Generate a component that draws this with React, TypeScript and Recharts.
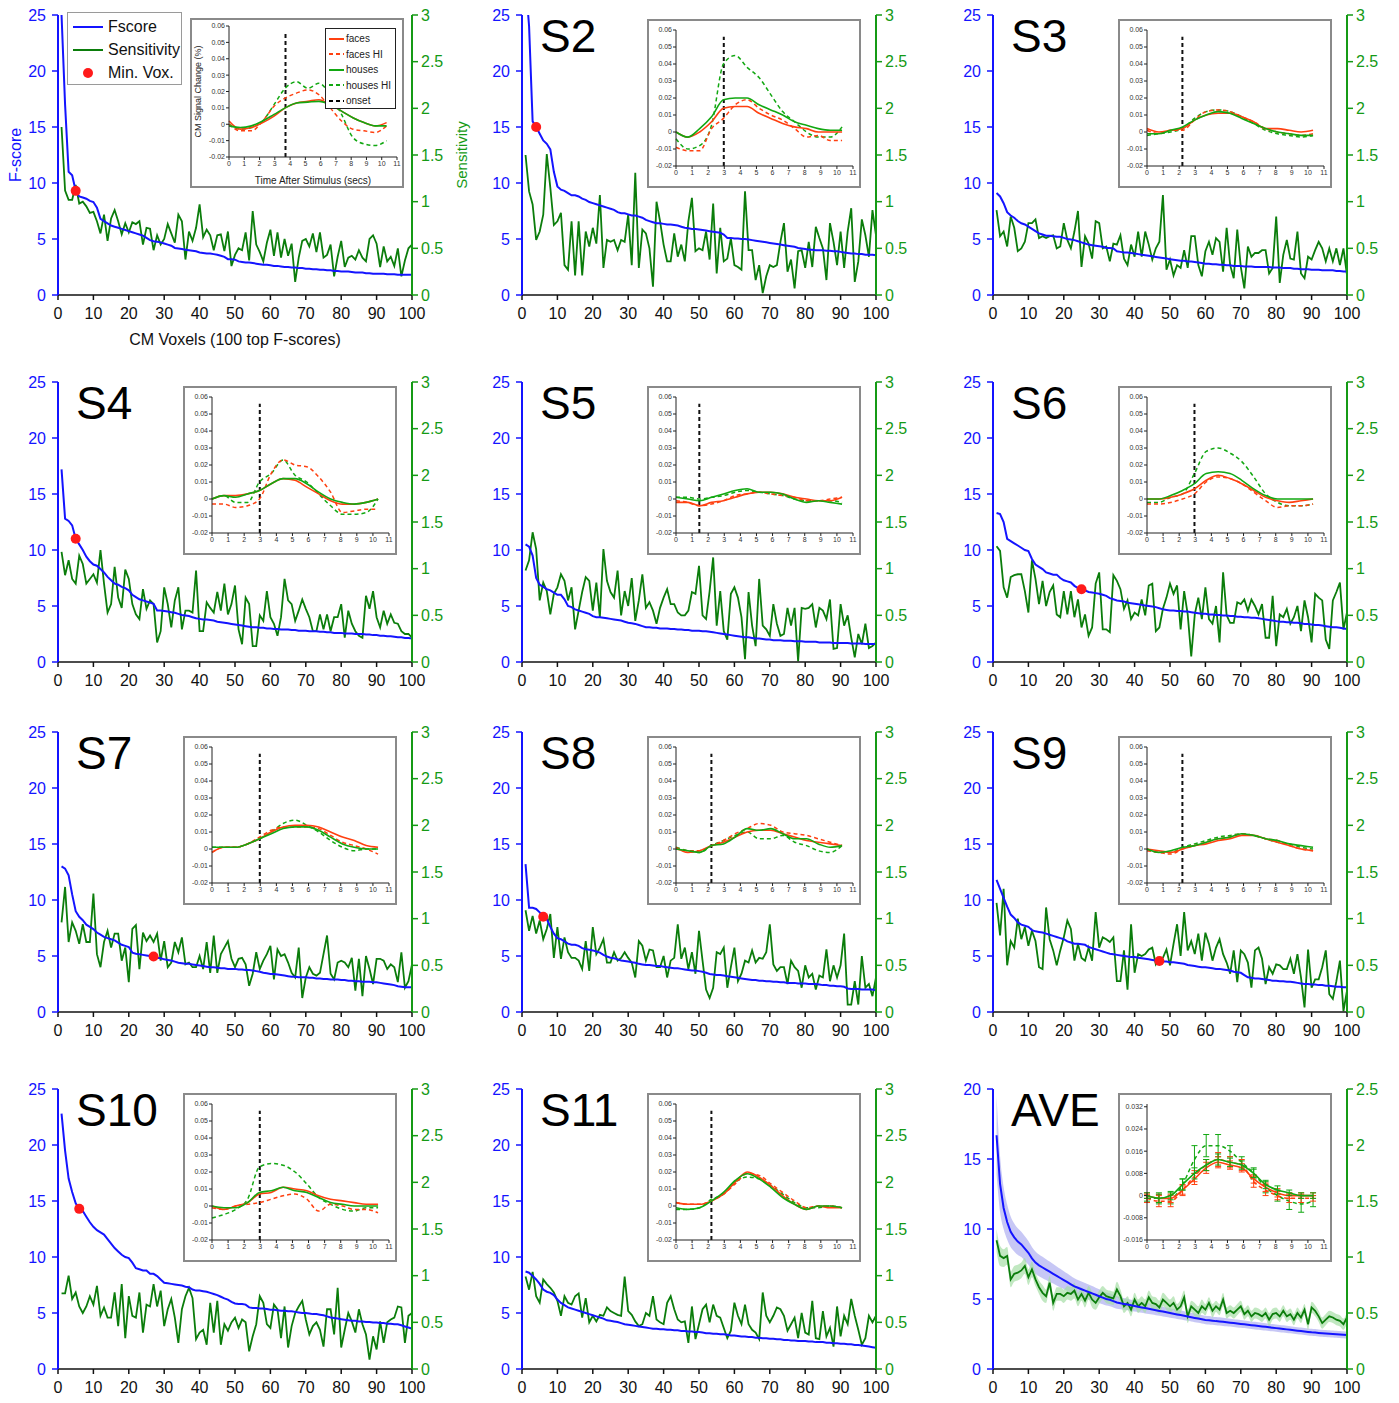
import React from "react";
import {
  ComposedChart,
  LineChart,
  Line,
  Area,
  XAxis,
  YAxis,
  ReferenceDot,
  ReferenceLine,
  ErrorBar,
} from "recharts";

const FONT = '"Liberation Sans", Arial, Helvetica, sans-serif';
const BLUE = "#1414ff";
const GREEN = "#0b7d0b";
const AXIS_GREEN = "#159a15";
const RED = "#ff1a1a";
const INSET_RED = "#ff4010";
const INSET_GREEN = "#12a812";

// axis ticks
const VOXEL_TICKS = [0, 10, 20, 30, 40, 50, 60, 70, 80, 90, 100];
const FSCORE_TICKS = [0, 5, 10, 15, 20, 25];
const AVE_FSCORE_TICKS = [0, 5, 10, 15, 20];
const SENS_TICKS = [0, 0.5, 1, 1.5, 2, 2.5, 3];
const AVE_SENS_TICKS = [0, 0.5, 1, 1.5, 2, 2.5];
const TIME_TICKS = [0, 1, 2, 3, 4, 5, 6, 7, 8, 9, 10, 11];
const BOLD_TICKS = [-0.02, -0.01, 0, 0.01, 0.02, 0.03, 0.04, 0.05, 0.06];
const AVE_BOLD_TICKS = [-0.016, -0.008, 0, 0.008, 0.016, 0.024, 0.032];

// time after stimulus (secs) of the inset samples
const TIME = [0, 0.74, 1.47, 2.21, 2.95, 3.68, 4.42, 5.16, 5.89, 6.63, 7.37, 8.11, 8.84, 9.58, 10.32];

// ---- F-scores and sensitivity, voxels ranked 1..100 ----
const S1_FSCORE = [25,17,11,10.7,9.3,8.8,8.7,8.6,8.4,8.3, 7.8,6.8,6.6,6.4,6.2,6.1,6.0,5.9,5.8,5.7, 5.6,5.5,5.4,5.3,5.1,4.9,4.8,4.75,4.7,4.6, 4.5,4.4,4.2,4.15,4.1,4.05,4.0,3.95,3.9,3.8, 3.75,3.7,3.7,3.65,3.6,3.5,3.4,3.2,3.2,3.15, 3.0,2.95,2.9,2.9,2.85,2.8,2.75,2.7,2.7,2.65, 2.6,2.6,2.55,2.5,2.5,2.45,2.45,2.4,2.4,2.35, 2.35,2.3,2.3,2.25,2.25,2.2,2.2,2.15,2.15,2.1, 2.1,2.1,2.05,2.0,2.0,2.0,1.95,1.95,1.9,1.9, 1.9,1.9,1.85,1.85,1.85,1.8,1.8,1.8,1.8,1.8];
const S1_SENS = [1.80,1.12,1.02,1.02,1.18,0.98,1.00,0.95,0.88,0.89, 0.79,0.66,0.86,0.58,0.82,0.91,0.79,0.65,0.77,0.67, 0.78,0.76,0.79,0.54,0.72,0.71,0.48,0.64,0.54,0.60, 0.76,0.66,0.56,0.86,0.79,0.38,0.68,0.58,0.72,0.97, 0.62,0.70,0.64,0.48,0.64,0.65,0.47,0.68,0.31,0.43, 0.50,0.48,0.67,0.37,0.90,0.54,0.46,0.36,0.56,0.70, 0.42,0.67,0.40,0.60,0.42,0.55,0.14,0.40,0.58,0.60, 0.52,0.66,0.46,0.67,0.40,0.43,0.54,0.20,0.41,0.58, 0.30,0.40,0.42,0.38,0.48,0.40,0.36,0.60,0.64,0.55, 0.30,0.52,0.36,0.41,0.31,0.50,0.20,0.37,0.50,0.54];

const S2_FSCORE = [28,24,15.5,15.0,14.4,13.8,13.5,13.0,11.0,9.7, 9.4,9.3,9.1,8.9,8.9,8.8,8.6,8.5,8.3,8.2, 8.1,8.0,7.9,7.8,7.7,7.6,7.4,7.3,7.3,7.2, 7.1,7.1,7.0,6.9,6.7,6.6,6.5,6.4,6.4,6.35, 6.3,6.3,6.25,6.2,6.1,6.0,5.95,5.9,5.9,5.85, 5.8,5.75,5.7,5.65,5.6,5.55,5.4,5.1,5.1,5.05, 5.05,5.0,5.0,4.95,4.9,4.85,4.8,4.75,4.7,4.65, 4.6,4.55,4.5,4.45,4.4,4.35,4.3,4.2,4.15,4.1, 4.05,4.05,4.0,4.0,4.0,3.95,3.95,3.9,3.9,3.85, 3.8,3.75,3.7,3.7,3.65,3.65,3.6,3.6,3.6,3.55];
const S2_SENS = [1.50,1.11,0.97,0.59,0.68,0.86,1.51,1.15,0.75,0.79, 0.88,0.32,0.27,0.79,0.21,0.79,0.21,0.68,0.52,0.72, 0.55,1.07,0.29,0.59,0.57,0.59,0.48,0.59,0.57,0.86, 0.32,1.31,0.29,0.70,0.66,0.50,0.09,1.00,0.79,0.54, 0.36,0.36,0.66,0.41,0.54,0.36,0.79,1.04,0.47,0.50, 0.48,0.68,0.38,0.98,0.23,0.72,0.36,0.39,0.61,0.32, 0.30,0.27,1.11,0.48,0.48,0.16,0.32,0.02,0.20,0.32, 0.30,0.32,0.57,0.77,0.25,0.38,0.07,0.47,0.48,0.29, 0.57,0.30,0.73,0.61,0.50,0.16,0.77,0.57,0.32,0.68, 0.29,0.68,0.93,0.14,0.36,0.81,0.64,0.41,0.91,0.64];

const S3_FSCORE = [9.1,8.8,8.2,7.4,7.1,6.9,6.6,6.4,6.3,6.1, 5.9,5.7,5.5,5.4,5.3,5.3,5.25,5.2,5.2,5.1, 5.0,4.95,4.9,4.8,4.7,4.6,4.5,4.45,4.4,4.35, 4.3,4.2,4.2,4.15,3.9,3.85,3.8,3.8,3.75,3.7, 3.65,3.6,3.55,3.5,3.45,3.4,3.35,3.3,3.25,3.2, 3.15,3.1,3.05,3.05,3.0,3.0,2.95,2.9,2.85,2.8, 2.8,2.75,2.75,2.7,2.7,2.65,2.65,2.6,2.6,2.6, 2.55,2.55,2.55,2.5,2.5,2.5,2.5,2.5,2.45,2.45, 2.45,2.4,2.4,2.4,2.35,2.35,2.3,2.3,2.3,2.25, 2.25,2.25,2.2,2.2,2.2,2.2,2.15,2.15,2.1,2.1];
const S3_SENS = [0.91,0.63,0.68,0.52,0.84,0.72,0.47,0.50,0.57,0.77, 0.77,0.81,0.61,0.63,0.61,0.63,0.64,0.50,0.52,0.77, 0.59,0.50,0.68,0.90,0.30,0.63,0.55,0.39,0.79,0.77, 0.50,0.52,0.36,0.55,0.54,0.64,0.39,0.32,0.54,0.41, 0.68,0.41,0.68,0.54,0.38,0.50,0.57,1.07,0.27,0.38, 0.21,0.32,0.29,0.48,0.29,0.63,0.63,0.32,0.20,0.47, 0.57,0.43,0.61,0.57,0.25,0.72,0.32,0.18,0.70,0.30, 0.07,0.52,0.41,0.45,0.45,0.48,0.48,0.23,0.29,0.84, 0.13,0.43,0.59,0.39,0.38,0.68,0.23,0.18,0.41,0.38, 0.48,0.57,0.50,0.36,0.50,0.36,0.50,0.32,0.50,0.21];

const S4_FSCORE = [17.2,12.8,12.6,12.2,11.0,10.5,10.0,9.4,9.0,8.7, 8.6,8.3,8.0,7.6,7.3,7.0,6.9,6.7,6.6,6.4, 6.0,5.8,5.6,5.5,5.4,5.3,5.2,4.6,4.6,4.55, 4.5,4.45,4.4,4.3,4.2,4.15,4.1,4.0,3.9,3.85, 3.8,3.8,3.75,3.7,3.6,3.55,3.5,3.45,3.4,3.35, 3.3,3.25,3.2,3.15,3.1,3.1,3.05,3.05,3.0,3.0, 2.95,2.95,2.9,2.9,2.9,2.85,2.85,2.8,2.8,2.8, 2.75,2.75,2.75,2.7,2.7,2.65,2.65,2.6,2.6,2.6, 2.55,2.55,2.55,2.5,2.5,2.5,2.45,2.45,2.4,2.4, 2.35,2.35,2.3,2.3,2.25,2.2,2.2,2.15,2.15,2.1];
const S4_SENS = [1.18,0.93,1.09,0.89,0.84,1.14,1.05,0.84,0.89,0.94, 0.85,1.20,0.84,0.53,0.62,1.02,0.69,0.58,0.99,0.89, 0.62,0.51,0.46,0.78,0.57,0.66,0.62,0.21,0.33,0.80, 0.62,0.37,0.66,0.80,0.35,0.55,0.55,0.53,0.98,0.33, 0.33,0.64,0.58,0.53,0.75,0.55,0.84,0.51,0.62,0.82, 0.35,0.19,0.69,0.62,0.17,0.17,0.50,0.44,0.76,0.48, 0.41,0.28,0.48,0.89,0.66,0.62,0.44,0.55,0.67,0.57, 0.48,0.33,0.33,0.51,0.35,0.51,0.33,0.48,0.48,0.62, 0.26,0.55,0.41,0.33,0.28,0.26,0.71,0.57,0.76,0.48, 0.37,0.55,0.41,0.51,0.42,0.41,0.33,0.30,0.30,0.26];

const S5_FSCORE = [10.5,10.3,9.5,7.5,6.9,6.7,6.5,6.4,6.2,6.0, 6.0,5.6,5.0,4.9,4.7,4.6,4.5,4.4,4.3,4.1, 4.0,4.0,3.95,3.9,3.85,3.8,3.75,3.7,3.6,3.5, 3.45,3.4,3.3,3.2,3.1,3.1,3.05,3.05,3.0,3.0, 3.0,2.95,2.95,2.9,2.9,2.85,2.85,2.8,2.8,2.8, 2.75,2.75,2.7,2.65,2.6,2.55,2.5,2.45,2.4,2.35, 2.3,2.25,2.2,2.2,2.15,2.1,2.1,2.05,2.0,2.0, 1.95,1.95,1.95,1.9,1.9,1.9,1.85,1.85,1.85,1.8, 1.8,1.8,1.8,1.75,1.75,1.75,1.75,1.7,1.7,1.7, 1.7,1.7,1.65,1.65,1.65,1.65,1.6,1.6,1.6,1.6];
const S5_SENS = [0.98,1.09,1.39,1.21,0.66,0.85,0.76,0.51,0.73,0.80, 0.94,0.87,0.66,0.80,0.35,0.55,0.75,0.91,0.87,0.55, 0.85,0.48,1.21,0.87,0.75,0.69,0.98,0.50,0.76,0.60, 0.90,0.44,0.66,0.94,0.58,0.64,0.55,0.41,0.58,0.69, 0.78,0.62,0.62,0.53,0.50,0.50,0.55,0.75,0.73,1.03, 0.50,0.46,0.76,1.12,0.39,0.76,0.33,0.24,0.73,0.80, 0.69,0.48,0.03,0.75,0.39,0.17,0.89,0.39,0.35,0.28, 0.62,0.41,0.28,0.30,0.58,0.39,0.58,0.01,0.58,0.57, 0.58,0.62,0.37,0.58,0.55,0.46,0.67,0.14,0.15,0.62, 0.39,0.50,0.26,0.05,0.30,0.19,0.41,0.15,0.17,0.21];

const S6_FSCORE = [13.3,13.2,12.5,11.0,10.8,10.6,10.4,10.2,10.0,9.9, 9.2,8.7,8.5,8.3,8.0,7.9,7.8,7.8,7.5,7.3, 7.2,7.1,6.8,6.6,6.5,6.4,6.25,6.2,6.15,6.1, 6.0,5.9,5.7,5.6,5.5,5.45,5.4,5.3,5.25,5.2, 5.15,5.1,5.05,5.0,4.95,4.9,4.8,4.7,4.65,4.6, 4.6,4.55,4.55,4.5,4.5,4.45,4.4,4.35,4.3,4.3, 4.25,4.25,4.2,4.2,4.15,4.15,4.1,4.1,4.05,4.05, 4.0,4.0,3.95,3.95,3.9,3.85,3.8,3.75,3.7,3.65, 3.6,3.6,3.55,3.55,3.5,3.5,3.45,3.4,3.4,3.35, 3.3,3.3,3.25,3.2,3.15,3.1,3.1,3.05,3.0,2.95];
const S6_SENS = [1.24,1.19,0.80,0.69,0.91,0.93,0.94,0.94,0.76,0.53, 1.09,0.89,0.62,0.87,0.60,0.75,0.82,0.51,0.48,0.76, 0.51,0.76,0.48,0.67,0.37,0.51,0.28,0.37,0.84,0.96, 0.35,0.35,0.32,0.93,0.87,0.78,0.57,0.66,0.46,0.53, 0.50,0.67,0.50,0.82,0.84,0.33,0.37,0.57,0.69,0.84, 0.73,0.82,0.35,0.76,0.51,0.06,0.51,0.69,0.46,0.80, 0.46,0.41,0.60,0.21,0.96,0.50,0.42,0.42,0.64,0.62, 0.67,0.55,0.67,0.60,0.51,0.62,0.26,0.26,0.71,0.17, 0.51,0.48,0.57,0.41,0.48,0.60,0.33,0.66,0.48,0.21, 0.73,0.69,0.66,0.24,0.14,0.66,0.75,0.85,0.35,0.53];

const S7_FSCORE = [13.0,12.8,12.2,10.5,9.0,8.5,8.2,7.8,7.6,7.4, 7.1,6.9,6.7,6.6,6.5,6.4,6.2,6.0,5.9,5.8, 5.3,5.2,5.15,5.1,5.05,5.0,4.95,4.85,4.8,4.7, 4.65,4.6,4.5,4.4,4.35,4.3,4.3,4.25,4.2,4.15, 4.1,4.05,4.0,4.0,3.95,3.9,3.9,3.85,3.85,3.85, 3.8,3.8,3.75,3.75,3.7,3.65,3.6,3.5,3.45,3.4, 3.4,3.35,3.3,3.25,3.2,3.15,3.15,3.1,3.1,3.1, 3.05,3.05,3.0,3.0,2.95,2.95,2.9,2.9,2.9,2.85, 2.85,2.8,2.8,2.75,2.75,2.7,2.7,2.7,2.65,2.65, 2.6,2.55,2.5,2.45,2.4,2.3,2.25,2.2,2.2,2.2];
const S7_SENS = [0.96,1.34,0.75,0.96,0.87,0.73,0.94,0.75,0.75,1.27, 0.62,0.48,0.75,0.87,0.69,0.84,0.84,0.55,0.69,0.32, 0.89,0.93,0.46,0.85,0.76,0.82,0.75,0.84,0.55,0.76, 0.48,0.53,0.75,0.64,0.80,0.51,0.53,0.48,0.48,0.60, 0.46,0.75,0.42,0.82,0.42,0.62,0.69,0.76,0.57,0.48, 0.57,0.58,0.51,0.28,0.41,0.64,0.46,0.55,0.62,0.71, 0.35,0.67,0.60,0.62,0.53,0.42,0.37,0.69,0.15,0.37, 0.48,0.41,0.39,0.42,0.62,0.82,0.41,0.35,0.53,0.55, 0.53,0.48,0.58,0.23,0.57,0.17,0.60,0.46,0.30,0.57, 0.57,0.55,0.46,0.51,0.48,0.32,0.64,0.26,0.33,0.51];

const S8_FSCORE = [13.2,9.3,9.3,9.2,8.9,8.5,8.3,7.6,7.0,6.6, 6.5,6.3,6.1,6.0,6.0,5.9,5.7,5.6,5.55,5.5, 5.4,5.3,5.1,4.95,4.85,4.8,4.7,4.6,4.55,4.5, 4.45,4.4,4.3,4.25,4.2,4.2,4.15,4.1,4.1,4.05, 4.0,3.95,3.9,3.9,3.85,3.8,3.75,3.7,3.7,3.65, 3.6,3.5,3.4,3.35,3.3,3.3,3.25,3.2,3.15,3.1, 3.05,3.0,2.95,2.9,2.85,2.85,2.8,2.8,2.75,2.75, 2.7,2.7,2.65,2.65,2.6,2.6,2.6,2.55,2.55,2.55, 2.5,2.5,2.5,2.45,2.4,2.4,2.35,2.35,2.3,2.3, 2.25,2.1,2.05,2.05,2.05,2.0,2.0,2.0,2.0,1.95];
const S8_SENS = [1.09,0.87,1.03,0.84,0.98,0.78,0.89,1.05,0.58,0.91, 0.57,0.80,0.64,0.58,0.58,0.55,0.46,0.76,0.44,0.91, 0.62,0.69,0.78,0.53,0.53,0.64,0.55,0.58,0.64,0.58, 0.53,0.37,0.76,0.71,0.55,0.67,0.66,0.48,0.48,0.60, 0.37,0.55,0.58,0.94,0.57,0.69,0.46,0.64,0.41,0.87, 0.55,0.24,0.15,0.26,0.64,0.62,0.69,0.26,0.48,0.69, 0.33,0.41,0.55,0.53,0.66,0.53,0.58,0.57,0.64,0.94, 0.51,0.44,0.48,0.48,0.30,0.55,0.48,0.44,0.26,0.50, 0.37,0.41,0.24,0.39,0.37,0.67,0.33,0.50,0.37,0.50, 0.84,0.08,0.08,0.33,0.08,0.60,0.26,0.30,0.17,0.37];

const S9_FSCORE = [11.8,11.0,10.2,9.4,8.7,8.4,8.0,7.8,7.7,7.6, 7.3,7.2,7.15,7.1,7.0,6.9,6.8,6.7,6.6,6.5, 6.3,6.2,6.1,6.1,6.05,6.0,5.8,5.7,5.6,5.5, 5.4,5.3,5.2,5.15,5.1,5.05,5.0,4.95,4.9,4.9, 4.85,4.8,4.75,4.7,4.65,4.6,4.55,4.5,4.5,4.45, 4.45,4.4,4.35,4.3,4.2,4.15,4.1,4.05,4.0,4.0, 3.95,3.9,3.85,3.85,3.8,3.75,3.7,3.6,3.55,3.5, 3.3,3.1,3.05,3.0,3.0,2.95,2.9,2.85,2.8,2.8, 2.75,2.75,2.7,2.7,2.65,2.6,2.55,2.5,2.5,2.45, 2.45,2.4,2.4,2.35,2.35,2.3,2.25,2.25,2.2,2.2];
const S9_SENS = [1.17,0.82,1.32,0.50,0.76,0.69,1.00,0.78,0.91,0.71, 0.87,0.76,0.48,0.46,1.12,0.78,0.66,0.50,0.66,0.80, 0.98,0.89,0.55,0.73,0.58,0.55,0.69,0.55,1.07,0.69, 0.80,0.78,0.75,0.80,0.33,0.33,0.66,0.24,0.94,0.42, 0.62,0.60,0.62,0.67,0.69,0.51,0.57,0.58,0.67,0.50, 0.73,0.94,0.60,1.07,0.66,0.76,0.62,0.84,0.55,0.85, 0.73,0.55,0.69,0.78,0.62,0.53,0.41,0.66,0.32,0.66, 0.62,0.53,0.26,0.66,0.69,0.57,0.30,0.48,0.41,0.51, 0.50,0.46,0.46,0.57,0.41,0.62,0.37,0.05,0.67,0.26, 0.35,0.35,0.48,0.66,0.19,0.14,0.33,0.55,0.01,0.23];

const S10_FSCORE = [22.8,19.5,17.0,15.8,14.8,14.3,14.1,13.6,13.1,12.7, 12.4,12.2,12.0,11.6,11.2,10.8,10.5,10.2,10.0,9.9, 9.5,9.0,8.9,8.8,8.8,8.5,8.5,8.3,8.0,7.7, 7.65,7.6,7.55,7.5,7.45,7.35,7.3,7.1,7.0,7.0, 6.95,6.9,6.8,6.7,6.6,6.45,6.3,6.2,6.0,5.85, 5.8,5.8,5.75,5.5,5.45,5.45,5.4,5.4,5.35,5.3, 5.3,5.25,5.2,5.2,5.15,5.15,5.1,5.05,5.0,5.0, 4.95,4.9,4.9,4.85,4.8,4.7,4.6,4.55,4.5,4.45, 4.4,4.35,4.3,4.3,4.25,4.25,4.2,4.2,4.15,4.15, 4.1,4.1,4.05,4.05,4.0,4.0,3.9,3.8,3.7,3.6];
const S10_SENS = [0.81,0.81,1.00,0.75,0.82,0.67,0.60,0.67,0.78,0.69, 0.89,0.57,0.66,0.55,0.55,0.82,0.46,0.91,0.33,0.78, 0.57,0.55,0.82,0.39,0.69,0.67,0.91,0.67,0.84,0.46, 0.64,0.75,0.55,0.28,0.64,0.78,0.87,0.76,0.32,0.39, 0.42,0.26,0.71,0.39,0.73,0.26,0.48,0.41,0.50,0.55, 0.44,0.53,0.50,0.19,0.35,0.48,0.78,0.71,0.48,0.44, 0.69,0.64,0.33,0.67,0.23,0.46,0.60,0.67,0.73,0.53, 0.37,0.46,0.50,0.42,0.24,0.64,0.64,0.37,0.87,0.23, 0.42,0.60,0.51,0.39,0.64,0.48,0.37,0.10,0.35,0.21, 0.51,0.28,0.50,0.53,0.55,0.67,0.66,0.28,0.57,0.60];

const S11_FSCORE = [8.7,8.6,8.3,8.0,7.6,7.1,6.9,6.8,6.6,6.2, 5.9,5.7,5.5,5.4,5.3,5.2,5.1,5.0,4.9,4.8, 4.7,4.6,4.5,4.35,4.3,4.25,4.2,4.1,4.0,3.95, 3.9,3.85,3.8,3.75,3.7,3.65,3.6,3.6,3.55,3.55, 3.5,3.5,3.45,3.45,3.4,3.4,3.35,3.35,3.3,3.3, 3.25,3.2,3.2,3.15,3.15,3.1,3.1,3.05,3.0,3.0, 2.95,2.9,2.9,2.85,2.85,2.8,2.8,2.75,2.75,2.7, 2.7,2.65,2.65,2.6,2.6,2.55,2.55,2.5,2.5,2.5, 2.45,2.45,2.4,2.4,2.4,2.35,2.35,2.3,2.3,2.25, 2.25,2.2,2.2,2.15,2.15,2.1,2.05,2.0,1.95,1.9];
const S11_SENS = [0.99,0.85,1.04,0.78,0.71,0.96,0.91,0.87,0.82,0.73, 0.57,0.78,0.71,0.69,0.78,0.81,0.55,0.76,0.50,0.57, 0.51,0.58,0.57,0.66,0.62,0.60,0.58,0.57,0.99,0.62, 0.58,0.51,0.46,0.48,0.60,0.57,0.78,0.53,0.50,0.48, 0.71,0.78,0.64,0.53,0.50,0.51,0.28,0.67,0.32,0.48, 0.64,0.69,0.50,0.69,0.57,0.55,0.44,0.33,0.41,0.71, 0.57,0.48,0.69,0.48,0.42,0.39,0.32,0.82,0.57,0.50, 0.57,0.66,0.64,0.57,0.41,0.48,0.55,0.33,0.60,0.39, 0.37,0.73,0.33,0.32,0.62,0.35,0.44,0.24,0.67,0.35, 0.57,0.48,0.75,0.57,0.42,0.26,0.33,0.57,0.50,0.57];

const AVE_FSCORE = [16.7,13.2,11.5,10.5,9.8,9.4,9.1,8.9,8.6,8.3, 7.9,7.6,7.4,7.25,7.1,6.95,6.8,6.65,6.5,6.35, 6.2,6.05,5.9,5.8,5.7,5.6,5.5,5.4,5.3,5.2, 5.1,5.0,4.95,4.85,4.75,4.7,4.65,4.6,4.55,4.5, 4.45,4.4,4.35,4.3,4.25,4.2,4.15,4.1,4.05,4.0, 3.95,3.9,3.85,3.8,3.75,3.7,3.65,3.6,3.55,3.5, 3.48,3.45,3.42,3.4,3.37,3.34,3.31,3.28,3.25,3.22, 3.19,3.16,3.13,3.1,3.07,3.04,3.01,2.98,2.95,2.92, 2.89,2.86,2.83,2.8,2.77,2.74,2.71,2.68,2.65,2.62, 2.6,2.58,2.56,2.54,2.52,2.5,2.48,2.46,2.44,2.42];
const AVE_FSCORE_ERR = [2.8,2.0,1.5,1.25,1.1,1.0,0.95,0.9,0.88,0.85, 0.82,0.8,0.78,0.76,0.74,0.72,0.7,0.68,0.66,0.64, 0.62,0.6,0.58,0.56,0.55,0.54,0.53,0.52,0.5,0.49, 0.48,0.47,0.46,0.45,0.44,0.43,0.42,0.41,0.4,0.4, 0.39,0.38,0.38,0.37,0.36,0.36,0.35,0.35,0.34,0.34, 0.33,0.33,0.32,0.32,0.31,0.31,0.31,0.3,0.3,0.3, 0.3,0.29,0.29,0.29,0.29,0.28,0.28,0.28,0.28,0.28, 0.27,0.27,0.27,0.27,0.27,0.27,0.26,0.26,0.26,0.26, 0.26,0.26,0.26,0.25,0.25,0.25,0.25,0.25,0.25,0.25, 0.25,0.25,0.25,0.25,0.25,0.25,0.25,0.25,0.25,0.25];
const AVE_SENS = [1.15,1.01,0.99,1.01,0.80,0.85,0.86,0.88,0.92,0.82, 0.89,0.80,0.73,0.68,0.65,0.77,0.59,0.67,0.67,0.65, 0.68,0.67,0.70,0.62,0.67,0.61,0.68,0.62,0.59,0.64, 0.68,0.65,0.64,0.63,0.71,0.65,0.56,0.59,0.53,0.62, 0.56,0.59,0.56,0.64,0.59,0.58,0.55,0.62,0.59,0.56, 0.59,0.53,0.56,0.64,0.47,0.56,0.53,0.50,0.56,0.53, 0.59,0.52,0.56,0.53,0.62,0.50,0.52,0.50,0.53,0.56, 0.49,0.52,0.47,0.50,0.49,0.47,0.50,0.44,0.49,0.50, 0.47,0.52,0.47,0.49,0.44,0.50,0.46,0.53,0.40,0.55, 0.52,0.47,0.41,0.44,0.47,0.46,0.44,0.43,0.40,0.46];
const AVE_SENS_ERR = [0.10,0.09,0.08,0.08,0.07,0.07,0.07,0.07,0.07,0.07, 0.07,0.06,0.06,0.07,0.06,0.06,0.07,0.06,0.06,0.06, 0.06,0.06,0.07,0.06,0.06,0.06,0.06,0.07,0.06,0.06, 0.06,0.06,0.06,0.06,0.07,0.06,0.06,0.06,0.06,0.06, 0.06,0.06,0.06,0.06,0.06,0.06,0.06,0.06,0.06,0.06, 0.06,0.05,0.06,0.06,0.06,0.05,0.06,0.06,0.06,0.05, 0.05,0.06,0.05,0.05,0.06,0.05,0.05,0.05,0.05,0.05, 0.05,0.05,0.05,0.05,0.05,0.05,0.05,0.06,0.05,0.05, 0.05,0.05,0.05,0.05,0.05,0.05,0.05,0.05,0.05,0.05, 0.05,0.05,0.05,0.05,0.05,0.05,0.05,0.05,0.05,0.05];

// ---- inset BOLD time courses (faces, faces HI, houses, houses HI) ----
const S1_FACES = [0.002,-0.003,-0.002,0.001,0.005,0.010,0.013,0.014,0.015,0.012,0.008,0.004,0.001,-0.001,0.001];
const S1_FACES_HI = [0,-0.004,-0.004,0.002,0.011,0.016,0.019,0.021,0.018,0.010,0.002,-0.003,-0.004,-0.005,-0.001];
const S1_HOUSES = [-0.001,-0.002,-0.001,0.002,0.006,0.010,0.013,0.0135,0.014,0.012,0.008,0.004,0.001,-0.001,-0.001];
const S1_HOUSES_HI = [0,-0.003,-0.002,0.002,0.012,0.022,0.026,0.022,0.025,0.018,0.006,-0.008,-0.012,-0.013,-0.010];

const S2_FACES = [0,-0.003,0,0.006,0.014,0.015,0.015,0.011,0.008,0.005,0.003,0.002,0,0,0];
const S2_FACES_HI = [-0.009,-0.011,-0.011,0.002,0.008,0.016,0.019,0.014,0.010,0.007,0.002,-0.003,-0.002,-0.005,-0.005];
const S2_HOUSES = [0,-0.003,0.002,0.009,0.019,0.020,0.020,0.016,0.013,0.010,0.006,0.004,0.002,0.001,0.001];
const S2_HOUSES_HI = [-0.004,-0.010,-0.008,0.004,0.040,0.045,0.038,0.032,0.022,0.012,0.006,0,-0.003,-0.003,0.003];

const S3_FACES = [0.002,0,0.001,0.002,0.007,0.010,0.011,0.011,0.009,0.006,0.002,0.002,0.001,0,0.001];
const S3_FACES_HI = [0.001,-0.001,0.001,0.001,0.007,0.012,0.013,0.012,0.009,0.006,0.002,0,-0.001,-0.002,-0.001];
const S3_HOUSES = [-0.001,-0.001,0.001,0.003,0.007,0.010,0.012,0.011,0.008,0.005,0.002,0,-0.001,-0.002,-0.002];
const S3_HOUSES_HI = [-0.002,-0.001,0,0.002,0.008,0.012,0.013,0.012,0.009,0.005,0.001,-0.001,-0.002,-0.003,-0.002];

const S4_FACES = [0,0.002,0.002,0.003,0.005,0.009,0.012,0.011,0.007,0.003,-0.001,-0.003,-0.003,-0.002,0];
const S4_FACES_HI = [-0.003,-0.003,-0.005,-0.004,0,0.015,0.023,0.020,0.019,0.013,0.004,-0.008,-0.007,-0.006,-0.006];
const S4_HOUSES = [0,0.002,0.001,0.003,0.005,0.009,0.012,0.012,0.009,0.004,0,-0.002,-0.003,-0.002,0];
const S4_HOUSES_HI = [0,0.002,-0.002,-0.002,0.010,0.015,0.023,0.014,0.010,0.003,-0.004,-0.009,-0.009,-0.008,0];

const S5_FACES = [-0.002,-0.002,-0.004,-0.002,-0.001,0.001,0.003,0.004,0.004,0.003,0.001,0,-0.001,-0.001,0.001];
const S5_FACES_HI = [-0.001,-0.002,-0.004,-0.003,-0.001,0.002,0.003,0.004,0.003,0.002,0.001,-0.001,-0.001,0,0.001];
const S5_HOUSES = [0.001,0,-0.001,0.001,0.003,0.005,0.006,0.004,0.004,0.003,0,-0.002,-0.001,-0.002,-0.003];
const S5_HOUSES_HI = [0.001,0.001,0,0.001,0.002,0.004,0.005,0.004,0.003,0.002,0,-0.001,-0.001,-0.001,-0.002];

const S6_FACES = [0,0,0.001,0.003,0.006,0.011,0.014,0.012,0.009,0.005,0.001,-0.001,-0.002,-0.001,0];
const S6_FACES_HI = [-0.003,-0.003,-0.002,0,0.003,0.010,0.013,0.012,0.009,0.004,-0.001,-0.005,-0.004,-0.004,-0.003];
const S6_HOUSES = [0,0,0.002,0.005,0.009,0.015,0.016,0.015,0.011,0.006,0.002,0,0,0,0];
const S6_HOUSES_HI = [-0.002,-0.002,0.001,0.003,0.015,0.028,0.030,0.027,0.022,0.013,0.003,-0.002,-0.004,-0.004,-0.003];

const S7_FACES = [-0.002,0.001,0.001,0.003,0.006,0.010,0.013,0.014,0.014,0.013,0.010,0.007,0.005,0.002,0.001];
const S7_FACES_HI = [-0.002,0.001,0.001,0.003,0.007,0.011,0.013,0.013,0.013,0.012,0.008,0.004,0.002,0,-0.003];
const S7_HOUSES = [0.001,0.001,0.001,0.003,0.006,0.009,0.012,0.013,0.013,0.011,0.007,0.003,0.001,0,0];
const S7_HOUSES_HI = [0.001,0.001,0.001,0.003,0.006,0.010,0.015,0.017,0.014,0.010,0.005,0.001,-0.001,0,0];

const S8_FACES = [0.001,-0.002,-0.001,0.002,0.004,0.007,0.010,0.011,0.011,0.009,0.007,0.005,0.004,0.003,0.002];
const S8_FACES_HI = [0,-0.001,-0.001,0.002,0.005,0.009,0.012,0.015,0.014,0.010,0.009,0.008,0.006,0.004,0.002];
const S8_HOUSES = [0,-0.001,-0.002,0.002,0.003,0.007,0.012,0.011,0.012,0.009,0.006,0.006,0.003,0.001,0.002];
const S8_HOUSES_HI = [0.001,-0.001,-0.002,0.002,0.005,0.008,0.010,0.006,0.006,0.008,0.004,0.002,-0.001,-0.002,0.002];

const S9_FACES = [0,-0.001,-0.002,0,0.002,0.003,0.005,0.006,0.008,0.008,0.006,0.004,0.002,0,-0.001];
const S9_FACES_HI = [-0.001,-0.002,-0.003,0,0.002,0.004,0.006,0.007,0.009,0.008,0.006,0.005,0.002,0,-0.001];
const S9_HOUSES = [0,-0.002,-0.001,0.001,0.002,0.004,0.006,0.007,0.009,0.008,0.006,0.005,0.003,0.002,0.001];
const S9_HOUSES_HI = [0,-0.002,-0.002,0.001,0.003,0.005,0.007,0.008,0.009,0.008,0.006,0.004,0.003,0.001,0];

const S10_FACES = [0,-0.002,0,0.002,0.007,0.008,0.011,0.010,0.009,0.006,0.004,0.003,0.002,0.001,0.001];
const S10_FACES_HI = [-0.001,-0.002,0,0.001,0.002,0.004,0.006,0.007,0.004,-0.003,0.001,0,-0.002,-0.002,-0.004];
const S10_HOUSES = [0,-0.001,-0.001,0.002,0.008,0.009,0.011,0.009,0.008,0.005,0.002,0.001,0,0,0];
const S10_HOUSES_HI = [-0.007,-0.005,-0.002,0.004,0.023,0.025,0.024,0.020,0.013,0.005,0.001,-0.002,-0.003,-0.001,-0.001];

const S11_FACES = [0.002,0.001,0.001,0.003,0.007,0.014,0.020,0.017,0.012,0.006,0.001,-0.002,0,-0.001,-0.001];
const S11_FACES_HI = [0.002,0.001,0.001,0.003,0.007,0.013,0.019,0.018,0.013,0.008,0.003,-0.001,0,0,-0.001];
const S11_HOUSES = [-0.001,-0.002,-0.001,0.003,0.008,0.015,0.019,0.016,0.011,0.005,0.001,-0.002,0,0,-0.001];
const S11_HOUSES_HI = [-0.002,-0.002,-0.001,0.004,0.007,0.014,0.017,0.016,0.012,0.007,0.002,-0.001,-0.001,0,-0.001];

const AVE_FACES = [0,-0.001,-0.001,0.002,0.006,0.010,0.012,0.011,0.010,0.006,0.003,0.001,0,0,0];
const AVE_FACES_HI = [-0.001,-0.002,-0.002,0.002,0.007,0.011,0.013,0.012,0.011,0.005,0.002,0,-0.001,-0.001,-0.001];
const AVE_HOUSES = [0,-0.001,0,0.004,0.008,0.011,0.013,0.012,0.011,0.008,0.004,0.002,0.001,0,0];
const AVE_HOUSES_HI = [-0.001,-0.001,-0.001,0.004,0.013,0.018,0.018,0.016,0.012,0.008,0.003,0,-0.002,-0.003,-0.002];
const AVE_FACES_ERR = [0.001,0.0015,0.0015,0.0015,0.002,0.002,0.002,0.0015,0.0015,0.0015,0.0015,0.0015,0.001,0.001,0.001];
const AVE_FACES_HI_ERR = [0.0015,0.002,0.002,0.002,0.002,0.002,0.0025,0.002,0.002,0.002,0.002,0.0015,0.0015,0.0015,0.001];
const AVE_HOUSES_ERR = [0.001,0.0015,0.0015,0.002,0.002,0.002,0.002,0.0015,0.0015,0.0015,0.0015,0.0015,0.001,0.001,0.001];
const AVE_HOUSES_HI_ERR = [0.001,0.002,0.002,0.002,0.005,0.004,0.004,0.002,0.002,0.002,0.002,0.002,0.003,0.003,0.002];

const VOXELS = S1_FSCORE.map((_, i) => i + 1);

type PanelDef = {
  id: string;
  col: number;
  row: number;
  fscore: number[];
  sens: number[];
  minVox?: number; // rank of the minimum voxel
  faces: number[];
  facesHi: number[];
  houses: number[];
  housesHi: number[];
  onset?: number;
};

const PANELS: PanelDef[] = [
  { id: "S1", col: 0, row: 0, fscore: S1_FSCORE, sens: S1_SENS, minVox: 5, faces: S1_FACES, facesHi: S1_FACES_HI, houses: S1_HOUSES, housesHi: S1_HOUSES_HI, onset: 3.7 },
  { id: "S2", col: 1, row: 0, fscore: S2_FSCORE, sens: S2_SENS, minVox: 4, faces: S2_FACES, facesHi: S2_FACES_HI, houses: S2_HOUSES, housesHi: S2_HOUSES_HI, onset: 2.97 },
  { id: "S3", col: 2, row: 0, fscore: S3_FSCORE, sens: S3_SENS, faces: S3_FACES, facesHi: S3_FACES_HI, houses: S3_HOUSES, housesHi: S3_HOUSES_HI, onset: 2.2 },
  { id: "S4", col: 0, row: 1, fscore: S4_FSCORE, sens: S4_SENS, minVox: 5, faces: S4_FACES, facesHi: S4_FACES_HI, houses: S4_HOUSES, housesHi: S4_HOUSES_HI, onset: 2.97 },
  { id: "S5", col: 1, row: 1, fscore: S5_FSCORE, sens: S5_SENS, faces: S5_FACES, facesHi: S5_FACES_HI, houses: S5_HOUSES, housesHi: S5_HOUSES_HI, onset: 1.45 },
  { id: "S6", col: 2, row: 1, fscore: S6_FSCORE, sens: S6_SENS, minVox: 25, faces: S6_FACES, facesHi: S6_FACES_HI, houses: S6_HOUSES, housesHi: S6_HOUSES_HI, onset: 2.95 },
  { id: "S7", col: 0, row: 2, fscore: S7_FSCORE, sens: S7_SENS, minVox: 27, faces: S7_FACES, facesHi: S7_FACES_HI, houses: S7_HOUSES, housesHi: S7_HOUSES_HI, onset: 2.97 },
  { id: "S8", col: 1, row: 2, fscore: S8_FSCORE, sens: S8_SENS, minVox: 6, faces: S8_FACES, facesHi: S8_FACES_HI, houses: S8_HOUSES, housesHi: S8_HOUSES_HI, onset: 2.2 },
  { id: "S9", col: 2, row: 2, fscore: S9_FSCORE, sens: S9_SENS, minVox: 47, faces: S9_FACES, facesHi: S9_FACES_HI, houses: S9_HOUSES, housesHi: S9_HOUSES_HI, onset: 2.2 },
  { id: "S10", col: 0, row: 3, fscore: S10_FSCORE, sens: S10_SENS, minVox: 6, faces: S10_FACES, facesHi: S10_FACES_HI, houses: S10_HOUSES, housesHi: S10_HOUSES_HI, onset: 2.97 },
  { id: "S11", col: 1, row: 3, fscore: S11_FSCORE, sens: S11_SENS, faces: S11_FACES, facesHi: S11_FACES_HI, houses: S11_HOUSES, housesHi: S11_HOUSES_HI, onset: 2.2 },
  { id: "AVE", col: 2, row: 3, fscore: AVE_FSCORE, sens: AVE_SENS, faces: AVE_FACES, facesHi: AVE_FACES_HI, houses: AVE_HOUSES, housesHi: AVE_HOUSES_HI },
];

// plot-area left edges / top edges on the page
const COL_X = [58, 522, 993];
const ROW_Y = [15, 382, 732, 1089];
const PLOT_W = 354;
const PLOT_H = 280;
const LEFT_W = 58;
const RIGHT_W = 60;
const TOP = 15;

const fmtBold = (ave: boolean) => (v: number) =>
  v === 0 ? "0" : ave ? v.toFixed(3) : v.toFixed(2);

function InsetLegend() {
  const rows = [
    { label: "faces", color: INSET_RED, dash: undefined },
    { label: "faces HI", color: INSET_RED, dash: "4 3" },
    { label: "houses", color: INSET_GREEN, dash: undefined },
    { label: "houses HI", color: INSET_GREEN, dash: "4 3" },
    { label: "onset", color: "#000", dash: "4 3" },
  ];
  return (
    <div
      style={{
        position: "absolute",
        left: 133,
        top: 8,
        width: 71,
        height: 81,
        border: "1.5px solid #222",
        background: "#fff",
        boxSizing: "border-box",
        padding: "2px 0 0 3px",
      }}
    >
      {rows.map((r) => (
        <div key={r.label} style={{ display: "flex", alignItems: "center", height: 15.5, fontSize: 10, color: "#222", fontFamily: FONT }}>
          <svg width={15} height={6} style={{ marginRight: 2 }}>
            <line x1={0} y1={3} x2={15} y2={3} stroke={r.color} strokeWidth={2} strokeDasharray={r.dash} />
          </svg>
          {r.label}
        </div>
      ))}
    </div>
  );
}

function Inset({ p }: { p: PanelDef }) {
  const first = p.id === "S1";
  const ave = p.id === "AVE";
  const data = TIME.map((t, i) => ({
    t,
    faces: p.faces[i],
    facesHi: p.facesHi[i],
    houses: p.houses[i],
    housesHi: p.housesHi[i],
    eF: AVE_FACES_ERR[i],
    eFH: AVE_FACES_HI_ERR[i],
    eH: AVE_HOUSES_ERR[i],
    eHH: AVE_HOUSES_HI_ERR[i],
  }));
  const innerH = first ? 166 : 165;
  const margin = first ? { top: 6, right: 5, left: 0, bottom: 0 } : { top: 9, right: 6, left: 0, bottom: 0 };
  const yW = first ? 37 : 27;
  const xH = first ? 29 : 20;
  const tickStyle = { fill: "#333", fontSize: 7, fontFamily: FONT };
  return (
    <div
      style={{
        position: "absolute",
        left: first ? 190 : LEFT_W + 125,
        top: first ? 18 : TOP + 4,
        width: 214,
        height: innerH + 4,
        border: "2px solid #8a8a8a",
        background: "#fff",
        boxSizing: "border-box",
      }}
    >
      <LineChart width={210} height={innerH} data={data} margin={margin}>
        <XAxis
          dataKey="t"
          type="number"
          domain={[0, 11]}
          ticks={TIME_TICKS}
          interval={0}
          height={xH}
          tick={tickStyle}
          tickSize={3}
          tickMargin={1}
          axisLine={{ stroke: "#222" }}
          tickLine={{ stroke: "#222" }}
          label={first ? { value: "Time After Stimulus (secs)", position: "insideBottom", offset: 2, style: { fill: "#222", fontSize: 10, fontFamily: FONT } } : undefined}
        />
        <YAxis
          type="number"
          domain={ave ? [-0.016, 0.033] : [-0.02, 0.06]}
          ticks={ave ? AVE_BOLD_TICKS : BOLD_TICKS}
          interval={0}
          width={yW}
          tick={tickStyle}
          tickSize={3}
          tickMargin={1}
          tickFormatter={fmtBold(ave)}
          axisLine={{ stroke: "#222" }}
          tickLine={{ stroke: "#222" }}
          allowDataOverflow
          label={first ? { value: "CM Signal Change (%)", angle: -90, position: "insideLeft", offset: 6, style: { fill: "#222", fontSize: 9, fontFamily: FONT, textAnchor: "middle" } } : undefined}
        />
        {p.onset !== undefined && (
          <ReferenceLine
            segment={[{ x: p.onset, y: -0.02 }, { x: p.onset, y: 0.056 }]}
            stroke="#111"
            strokeWidth={2}
            strokeDasharray="4 3"
          />
        )}
        <Line dataKey="housesHi" type="monotone" stroke={INSET_GREEN} strokeWidth={1.5} strokeDasharray="4 3" dot={false} isAnimationActive={false}>
          {ave && <ErrorBar dataKey="eHH" width={3} stroke={INSET_GREEN} strokeWidth={1} />}
        </Line>
        <Line dataKey="facesHi" type="monotone" stroke={INSET_RED} strokeWidth={1.5} strokeDasharray="4 3" dot={false} isAnimationActive={false}>
          {ave && <ErrorBar dataKey="eFH" width={3} stroke={INSET_RED} strokeWidth={1} />}
        </Line>
        <Line dataKey="faces" type="monotone" stroke={INSET_RED} strokeWidth={1.6} dot={false} isAnimationActive={false}>
          {ave && <ErrorBar dataKey="eF" width={3} stroke={INSET_RED} strokeWidth={1} />}
        </Line>
        <Line dataKey="houses" type="monotone" stroke={INSET_GREEN} strokeWidth={1.6} dot={false} isAnimationActive={false}>
          {ave && <ErrorBar dataKey="eH" width={3} stroke={INSET_GREEN} strokeWidth={1} />}
        </Line>
      </LineChart>
      {first && <InsetLegend />}
    </div>
  );
}

function MainLegend() {
  const rows = [
    { label: "Fscore", kind: "line", color: BLUE },
    { label: "Sensitivity", kind: "line", color: GREEN },
    { label: "Min. Vox.", kind: "dot", color: RED },
  ];
  return (
    <div
      style={{
        position: "absolute",
        left: 67,
        top: 12,
        width: 115,
        height: 73,
        border: "1.5px solid #9a9a9a",
        background: "#fff",
        boxSizing: "border-box",
        padding: "2px 0 0 5px",
      }}
    >
      {rows.map((r) => (
        <div key={r.label} style={{ display: "flex", alignItems: "center", height: 23, fontSize: 16, color: "#111", fontFamily: FONT }}>
          <svg width={30} height={10} style={{ marginRight: 5 }}>
            {r.kind === "line" ? (
              <line x1={0} y1={5} x2={30} y2={5} stroke={r.color} strokeWidth={2} />
            ) : (
              <circle cx={15} cy={5} r={5} fill={r.color} />
            )}
          </svg>
          {r.label}
        </div>
      ))}
    </div>
  );
}

function Panel({ p }: { p: PanelDef }) {
  const first = p.id === "S1";
  const ave = p.id === "AVE";
  const data = VOXELS.map((v, i) => ({
    v,
    f: p.fscore[i],
    s: p.sens[i],
    fb: ave ? [p.fscore[i] - AVE_FSCORE_ERR[i], p.fscore[i] + AVE_FSCORE_ERR[i]] : undefined,
    sb: ave ? [p.sens[i] - AVE_SENS_ERR[i], p.sens[i] + AVE_SENS_ERR[i]] : undefined,
  }));
  const xH = first ? 55 : 32;
  const width = LEFT_W + PLOT_W + RIGHT_W;
  const height = TOP + PLOT_H + xH;
  const fMax = ave ? 20 : 25;
  const sMax = ave ? 2.5 : 3;
  return (
    <div style={{ position: "absolute", left: COL_X[p.col] - LEFT_W, top: ROW_Y[p.row] - TOP, width, height }}>
      <ComposedChart width={width} height={height} data={data} margin={{ top: TOP, right: 0, bottom: 0, left: 0 }}>
        <XAxis
          dataKey="v"
          type="number"
          domain={[0, 100]}
          ticks={VOXEL_TICKS}
          interval={0}
          height={xH}
          tickSize={5}
          tickMargin={8}
          tick={{ fill: "#111", fontSize: 16, fontFamily: FONT }}
          axisLine={{ stroke: "#111", strokeWidth: 1.5 }}
          tickLine={{ stroke: "#111", strokeWidth: 1.5 }}
          label={first ? { value: "CM Voxels (100 top F-scores)", position: "insideBottom", offset: 5, style: { fill: "#111", fontSize: 16, fontFamily: FONT } } : undefined}
        />
        <YAxis
          yAxisId="f"
          type="number"
          domain={[0, fMax]}
          ticks={ave ? AVE_FSCORE_TICKS : FSCORE_TICKS}
          interval={0}
          allowDataOverflow
          width={LEFT_W}
          tickSize={6}
          tickMargin={6}
          tick={{ fill: BLUE, fontSize: 16, fontFamily: FONT }}
          axisLine={{ stroke: BLUE, strokeWidth: 2 }}
          tickLine={{ stroke: BLUE, strokeWidth: 1.5 }}
          label={first ? { value: "F-score", angle: -90, position: "insideLeft", offset: 15, style: { fill: BLUE, fontSize: 16, fontFamily: FONT, textAnchor: "middle" } } : undefined}
        />
        <YAxis
          yAxisId="s"
          orientation="right"
          type="number"
          domain={[0, sMax]}
          ticks={ave ? AVE_SENS_TICKS : SENS_TICKS}
          interval={0}
          allowDataOverflow
          width={RIGHT_W}
          tickSize={6}
          tickMargin={3}
          tick={{ fill: AXIS_GREEN, fontSize: 16, fontFamily: FONT }}
          axisLine={{ stroke: AXIS_GREEN, strokeWidth: 2 }}
          tickLine={{ stroke: AXIS_GREEN, strokeWidth: 1.5 }}
          label={first ? { value: "Sensitivity", angle: -90, position: "insideRight", offset: 10, style: { fill: AXIS_GREEN, fontSize: 15, fontFamily: FONT, textAnchor: "middle" } } : undefined}
        />
        {ave && (
          <Area yAxisId="f" dataKey="fb" type="monotone" stroke="none" fill="#b4b4f2" fillOpacity={0.75} isAnimationActive={false} />
        )}
        {ave && (
          <Area yAxisId="s" dataKey="sb" type="monotone" stroke="none" fill="#a6dea6" fillOpacity={0.7} isAnimationActive={false} />
        )}
        <Line yAxisId="s" dataKey="s" type="linear" stroke={GREEN} strokeWidth={1.8} dot={false} isAnimationActive={false} />
        <Line yAxisId="f" dataKey="f" type="linear" stroke={BLUE} strokeWidth={2} dot={false} isAnimationActive={false} />
        {p.minVox !== undefined && (
          <ReferenceDot yAxisId="f" x={p.minVox} y={p.fscore[p.minVox - 1]} r={5} fill={RED} stroke="none" />
        )}
      </ComposedChart>
      {!first && (
        <div
          style={{
            position: "absolute",
            left: LEFT_W + 18,
            top: TOP - 2,
            fontSize: 46,
            lineHeight: 1,
            color: "#000",
            fontFamily: FONT,
          }}
        >
          {p.id}
        </div>
      )}
      {first && <MainLegend />}
      <Inset p={p} />
    </div>
  );
}

export default function App() {
  return (
    <div
      style={{
        position: "absolute",
        left: 0,
        top: 0,
        width: 1399,
        height: 1403,
        overflow: "hidden",
        background: "#fff",
        fontFamily: FONT,
      }}
    >
      {PANELS.map((p) => (
        <Panel key={p.id} p={p} />
      ))}
    </div>
  );
}
